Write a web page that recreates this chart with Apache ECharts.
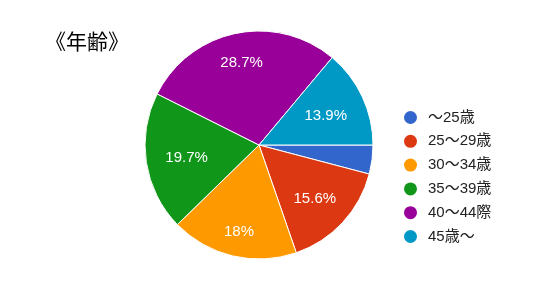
<!DOCTYPE html>
<html><head><meta charset="utf-8">
<script src="https://cdn.jsdelivr.net/npm/echarts@6/dist/echarts.min.js"></script>
<style>html,body{margin:0;padding:0;background:#fff}#c{width:539px;height:285px}</style>
</head><body><div id="c"></div>
<script>
var title = '《年齢》';
var categories = ['～25歳', '25～29歳', '30～34歳', '35～39歳', '40～44際', '45歳～'];
var values = [4.1, 15.6, 18, 19.7, 28.7, 13.9];
var colors = ['#3366cc', '#dc3912', '#ff9900', '#109618', '#990099', '#0099c6'];

var CX = 259, CY = 145, R = 114, LABEL_R = 95, LABEL_DY = 2;
var total = values.reduce(function (a, b) { return a + b; }, 0);
var chart = echarts.init(document.getElementById('c'));
var mainData = categories.map(function (n, i) {
  return { name: n, value: values[i], itemStyle: { color: colors[i] }, label: { show: values[i] >= 5 } };
});
function midAngle(idx) {
  var acc = 0;
  for (var i = 0; i < idx; i++) acc += values[i];
  return (acc + values[idx] / 2) / total * Math.PI * 2; // clockwise from 3 o'clock
}
chart.setOption({
  animation: false,
  title: { text: title, left: 40, top: 26, textStyle: { fontFamily: 'Noto Sans CJK JP', fontSize: 21, fontWeight: 'normal', color: '#000' } },
  legend: {
    orient: 'vertical', left: 397, top: 104,
    data: categories, icon: 'circle', itemWidth: 15, itemHeight: 15, itemGap: 6.8,
    textStyle: { fontFamily: 'Liberation Sans, Arial, Noto Sans CJK JP', fontSize: 15, color: '#222', padding: [0, 0, 0, 5] }
  },
  series: [
    {
      type: 'pie', center: [CX, CY], radius: [0, R], startAngle: 0, clockwise: true,
      data: mainData,
      label: { show: true, position: 'inside', formatter: '{c}%', color: '#fff', fontSize: 15, fontFamily: 'Liberation Sans, Arial' },
      labelLine: { show: false },
      labelLayout: function (p) {
        var a = midAngle(p.dataIndex);
        var c = Math.cos(a), s = Math.sin(a);
        var w = p.labelRect.width, h = p.labelRect.height * 0.65;
        var d = LABEL_R - (w / 2 * Math.abs(c) + h / 2 * Math.abs(s));
        return { x: CX + d * c, y: CY + d * s + LABEL_DY, align: 'center', verticalAlign: 'middle' };
      },
      itemStyle: { borderColor: '#fff', borderWidth: 1 }, emphasis: { disabled: true }, silent: true
    }
  ]
});
</script></body></html>
